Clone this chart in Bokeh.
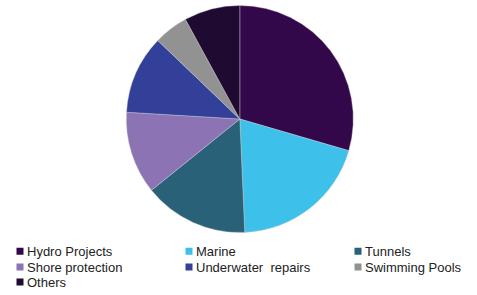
import math
from bokeh.plotting import figure
from bokeh.models import Range1d, ColumnDataSource
from bokeh.core.properties import value
from bokeh.embed import file_html
from bokeh.resources import INLINE

categories = ["Hydro Projects", "Marine", "Tunnels", "Shore protection",
              "Underwater\u00a0 repairs", "Swimming Pools", "Others"]
shares = [29.5, 19.8, 14.9, 11.75, 11.2, 4.9, 7.95]
colors = ["#33084a", "#3dc0ea", "#296179", "#8c74b4", "#33409a", "#929292", "#1f0a32"]

W, H = 477, 295
p = figure(width=W, height=H, output_backend="svg", toolbar_location=None,
           x_range=Range1d(0, W), y_range=Range1d(0, H), min_border=0)
p.axis.visible = False
p.grid.visible = False
p.outline_line_color = None
p.background_fill_color = "white"
p.border_fill_color = "white"

cx, cy, r = 239.3, H - 118.5, 113.5
total = sum(shares)
starts, ends = [], []
acc = 0.0
for s in shares:
    starts.append(math.pi / 2 - acc / total * 2 * math.pi)
    acc += s
    ends.append(math.pi / 2 - acc / total * 2 * math.pi)

src = ColumnDataSource(dict(start=starts, end=ends, color=colors, cat=categories))
p.wedge(x=cx, y=cy, radius=r, start_angle="start", end_angle="end",
        direction="clock", fill_color="color", line_color="#d0d0d0", line_width=0.4,
        source=src)

# legend: 3 columns
col_x = [16, 185, 354]
row_y = [250.7, 266.5, 281.5]
lx, ly, tx = [], [], []
for i, c in enumerate(categories):
    cxi = col_x[i % 3]
    ryi = row_y[i // 3]
    lx.append(cxi + 3.5)
    ly.append(H - ryi)
    tx.append(cxi + 10.5)
lsrc = ColumnDataSource(dict(x=lx, y=ly, tx=tx, color=colors, cat=categories))
p.rect(x="x", y="y", width=7, height=7, fill_color="color", line_color=None, source=lsrc)
p.text(x="tx", y="y", text="cat", text_font=value("Liberation Sans"),
       text_font_size="13px", text_baseline="middle", text_color="#222222", source=lsrc)

open("out.html", "w").write(file_html(p, INLINE))
